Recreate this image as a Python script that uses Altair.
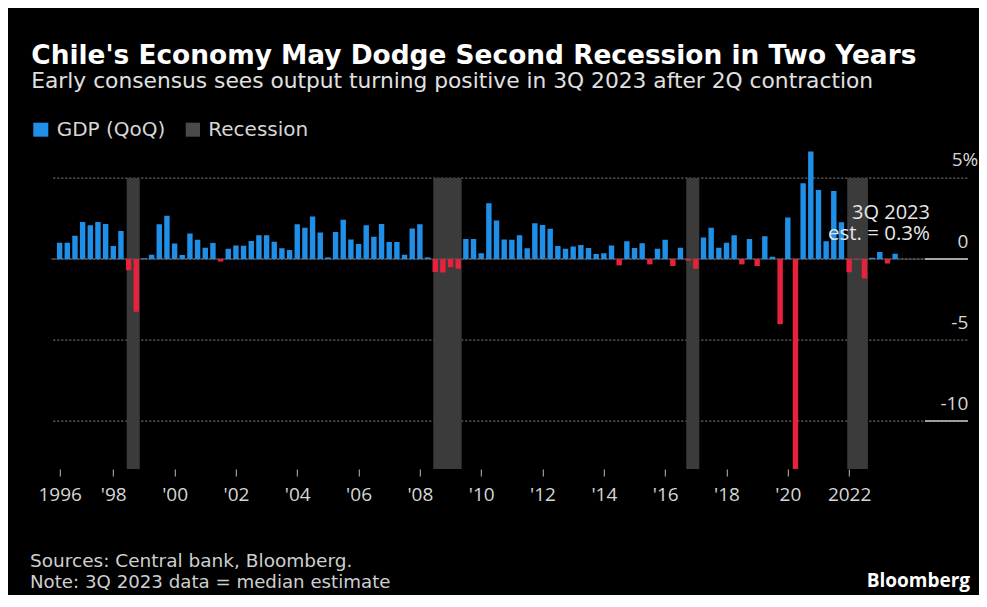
import json
import altair as alt
import pandas as pd

# ---------------- data ----------------
start_year = 1996
start_quarter = 2
gdp_qoq = [
    1.0, 1.0, 1.44, 2.28, 2.08, 2.28, 2.16, 0.8, 1.73, -0.7,
    -3.25, 0.05, 0.27, 2.14, 2.67, 0.95, 0.25, 1.58, 1.19, 0.7,
    0.99, -0.15, 0.64, 0.84, 0.82, 1.11, 1.46, 1.46, 1.07, 0.66,
    0.56, 2.14, 1.93, 2.63, 1.63, 0.1, 1.67, 2.43, 1.21, 0.93,
    2.08, 1.38, 2.16, 1.05, 1.05, 0.27, 1.89, 2.14, 0.1, -0.8,
    -0.83, -0.5, -0.6, 1.23, 1.23, 0.35, 3.44, 2.37, 1.21, 1.19,
    1.46, 0.66, 2.2, 2.1, 1.87, 0.8, 0.64, 0.78, 0.86, 0.68,
    0.31, 0.35, 0.84, -0.39, 1.09, 0.68, 0.97, -0.33, 0.64, 1.19,
    -0.43, 0.7, -0.1, -0.6, 1.33, 1.93, 0.7, 1.0, 1.46, -0.33,
    1.23, -0.43, 1.4, 0.14, -4.03, 2.57, -13.2, 4.67, 6.63, 4.26,
    1.1, 4.2, 2.27, -0.82, -0.05, -1.21, 0.08, 0.43, -0.27, 0.33,
]
rec_start = ["1998Q3", "2008Q3", "2016Q4", "2022Q1"]
rec_end = ["1998Q4", "2009Q2", "2017Q1", "2022Q3"]
tick_quarters = ["1996Q2", "1998Q1", "2000Q1", "2002Q1", "2004Q1", "2006Q1",
                 "2008Q1", "2010Q1", "2012Q1", "2014Q1", "2016Q1", "2018Q1",
                 "2020Q1", "2022Q1"]
tick_labels = ["1996", "'98", "'00", "'02", "'04", "'06", "'08", "'10",
               "'12", "'14", "'16", "'18", "'20", "2022"]
y_ticks = [5, 0, -5, -10]
y_top_label = "5%"
underline_levels = [0, -10]

title = "Chile's Economy May Dodge Second Recession in Two Years"
subtitle = "Early consensus sees output turning positive in 3Q 2023 after 2Q contraction"
legend_labels = ["GDP (QoQ)", "Recession"]
annotation = ["3Q 2023", "est. = 0.3%"]
sources = "Sources: Central bank, Bloomberg."
note = "Note: 3Q 2023 data = median estimate"
brand = "Bloomberg"

# ---------------- style ----------------
FONT = "Open Sans"
TFONT = "DejaVu Sans"
BLUE = "#1f8fe8"
RED = "#e8223d"
BAND = "#3b3b3b"
TXT = "#d6d6d6"
W, H = 916, 323.4
Y_DOM = [-12.96, 7.0]
X_DOM = [0.5, 118.7]


def qidx(q):
    y, n = q.split("Q")
    return (int(y) - 1996) * 4 + int(n) - 1


periods = []
y, q = start_year, start_quarter
for _ in gdp_qoq:
    periods.append(f"{y}Q{q}")
    q += 1
    if q > 4:
        q, y = 1, y + 1

df = pd.DataFrame({"period": periods, "value": gdp_qoq})
df["idx"] = df["period"].map(qidx)
df["sign"] = ["pos" if v >= 0 else "neg" for v in df["value"]]

bands = pd.DataFrame({"s": [qidx(s) for s in rec_start], "e": [qidx(e) for e in rec_end]})

tick_vals = [qidx(t) for t in tick_quarters]
label_expr = f"{json.dumps(tick_labels)}[indexof({json.dumps(tick_vals)}, datum.value)]"

xscale = alt.Scale(domain=X_DOM, nice=False, zero=False)
yscale = alt.Scale(domain=Y_DOM, nice=False, zero=False)

x_axis = alt.Axis(
    values=tick_vals, labelExpr=label_expr, title=None, domain=False,
    ticks=True, tickSize=7, tickColor="#bbbbbb", tickWidth=1,
    labelColor=TXT, labelFontSize=19, labelFont=FONT, labelPadding=9,
    grid=False, labelFlush=False, labelOverlap=False)
y_axis = alt.Axis(
    orient="right", values=y_ticks, title=None, domain=False, ticks=False,
    labelAlign="right", labelBaseline="alphabetic", labelPadding=1,
    labelOffset=-12, labelColor=TXT, labelFontSize=19, labelFont=FONT,
    labelExpr=f"datum.value == {max(y_ticks)} ? '' : (datum.value < 0 ? '-' + abs(datum.value) : '' + datum.value)",
    grid=True, gridColor="#8a8a8a", gridDash=[2, 2], gridWidth=1)

band_layer = alt.Chart(bands).transform_calculate(
    x0="datum.s - 0.25", x1="datum.e + 0.45"
).mark_rect(color=BAND).encode(
    x=alt.X("x0:Q", scale=xscale, axis=x_axis),
    x2="x1:Q",
    y=alt.Y(datum=5, scale=yscale, axis=y_axis),
    y2=alt.value(H),
)

bars = alt.Chart(df).mark_bar(size=5.4, clip=True).encode(
    x=alt.X("idx:Q", scale=xscale, axis=x_axis),
    y=alt.Y("value:Q", scale=yscale, axis=y_axis),
    color=alt.Color("sign:N", scale=alt.Scale(domain=["pos", "neg"], range=[BLUE, RED]), legend=None),
)

zero_line = alt.Chart(pd.DataFrame({"v": [0]})).mark_rule(color="#5a5a5a", strokeWidth=1).encode(
    y=alt.Y("v:Q", scale=yscale), x=alt.value(0), x2=alt.value(W))

underlines = alt.Chart(pd.DataFrame({"v": underline_levels})).mark_rule(color="#c8c8c8", strokeWidth=1.5).encode(
    y=alt.Y("v:Q", scale=yscale), x=alt.value(874.2), x2=alt.value(917.2))

top_label = alt.Chart(pd.DataFrame({"t": [y_top_label]})).mark_text(
    align="right", baseline="alphabetic", dy=-12, fontSize=19, font=FONT, color=TXT
).encode(x=alt.value(927.5), y=alt.Y(datum=max(y_ticks), scale=yscale), text="t:N")


def txt(s, x, y, size, color=TXT, weight="normal", align="left", font=TFONT):
    return alt.Chart(pd.DataFrame({"t": [s]})).mark_text(
        align=align, baseline="alphabetic", fontSize=size, fontWeight=weight,
        font=font, color=color
    ).encode(x=alt.value(x), y=alt.value(y), text="t:N")


def sq(x0, x1, y0, y1, color):
    return alt.Chart(pd.DataFrame({"a": [0]})).mark_rect(color=color).encode(
        x=alt.value(x0), x2=alt.value(x1), y=alt.value(y0), y2=alt.value(y1))


layers = [
    band_layer, zero_line, bars, underlines, top_label,
    txt(annotation[0], 879.2, 73.4, 20, "#e6e6e6", align="right", font=FONT),
    txt(annotation[1], 879.2, 94.4, 20.5, "#e6e6e6", align="right", font=FONT),
    txt(title, -19.5, -81.6, 26.4, "#ffffff", "bold"),
    txt(subtitle, -19.5, -57.6, 21.75, "#e0e0e0"),
    sq(-17.5, -2.5, -22.9, -8.9, BLUE),
    txt(legend_labels[0], 5.9, -9.6, 20, TXT),
    sq(134.9, 149.2, -22.9, -8.9, "#4a4a4a"),
    txt(legend_labels[1], 157.5, -9.6, 20, TXT),
    txt(sources, -20.8, 421.4, 18.5, "#cfcfcf"),
    txt(note, -20.8, 442.4, 18.2, "#cfcfcf"),
    txt(brand, 919.2, 441.4, 19, "#ffffff", "bold", align="right", font=FONT),
]

chart = alt.layer(*layers).properties(
    width=W, height=H,
    background="#000000",
    padding={"left": 42.8, "top": 137.6, "right": 12.2, "bottom": 126},
    autosize=alt.AutoSizeParams(type="none"),
).configure_view(stroke=None)

chart.save("out.html", embed_options={"renderer": "svg", "actions": False})
